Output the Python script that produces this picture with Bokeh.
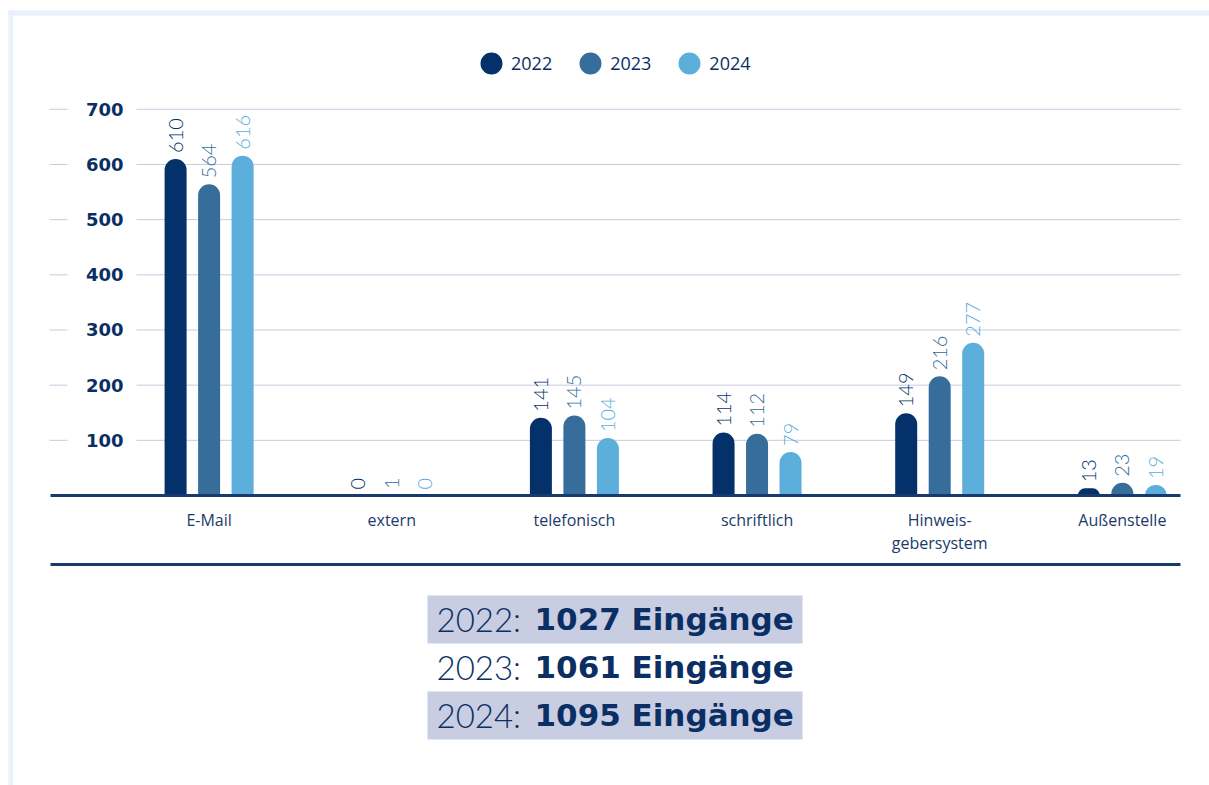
import math
from bokeh.plotting import figure
from bokeh.models import Range1d, ColumnDataSource, Legend, LegendItem
from bokeh.core.properties import value
from bokeh.embed import file_html
from bokeh.resources import INLINE

# ---------------- data ----------------
categories = ["E-Mail", "extern", "telefonisch", "schriftlich", "Hinweis-\ngebersystem", "Außenstelle"]
years = ["2022", "2023", "2024"]
values_2022 = [610, 0, 141, 114, 149, 13]
values_2023 = [564, 1, 145, 112, 216, 23]
values_2024 = [616, 0, 104, 79, 277, 19]
y_ticks = [100, 200, 300, 400, 500, 600, 700]
summary_word = "Eingänge"

# ---------------- style ----------------
colors = ["#04316a", "#366d9a", "#5caedb"]
NAVY = "#0b2f64"
GRID = "#c6cbe0"
BOX = "#c8cde1"
FRAME = "#e8f0fb"

# ---------------- layout (page pixels) ----------------
W, H = 1209, 785
OFF = 0
X0, DX = 208.6, 182.65     # page x of first category, px per category
Y0, PXU = 495.0, 0.5517    # page y of value 0, px per unit


def vx(px):
    return (px - X0) / DX


def vy(py):
    return (Y0 - py) / PXU


p = figure(width=W, height=H,
           x_range=Range1d(vx(OFF), vx(OFF + W)),
           y_range=Range1d(vy(OFF + H), vy(OFF)),
           x_axis_location=None, y_axis_location=None,
           min_border=0, toolbar_location=None, output_backend="svg",
           outline_line_color=None, background_fill_color="white",
           border_fill_color="white")
p.xgrid.grid_line_color = None
p.ygrid.grid_line_color = None

# light blue frame (top and left bands)
p.quad(left=[vx(8)], right=[vx(1212)], top=[vy(10)], bottom=[vy(15)],
       fill_color=FRAME, line_color=None)
p.quad(left=[vx(8)], right=[vx(12.5)], top=[vy(10)], bottom=[vy(790)],
       fill_color=FRAME, line_color=None)

# grid lines (short stub + main line, gap for labels)
p.segment(x0=vx(49), x1=vx(67), y0=y_ticks, y1=y_ticks, line_color=GRID, line_width=1)
p.segment(x0=vx(136), x1=vx(1180), y0=y_ticks, y1=y_ticks, line_color=GRID, line_width=1)

# y tick labels
p.text(x=vx(123), y=y_ticks, text=[str(t) for t in y_ticks],
       text_align="right", text_baseline="middle",
       text_font=value("DejaVu Sans"), text_font_style="bold",
       text_font_size="18px", text_color=NAVY)

# bars and value labels
series = [values_2022, values_2023, values_2024]
bar_w = 22 / DX
offsets = [-33.5 / DX, 0.0, 33.5 / DX]
legend_renderers = []
for k, (yr, vals, c) in enumerate(zip(years, series, colors)):
    xs = [i + offsets[k] for i in range(len(categories))]
    src = ColumnDataSource(dict(x=xs, top=vals, label=[str(v) for v in vals]))
    p.vbar(x="x", top="top", bottom=0, width=bar_w, source=src,
           fill_color=c, line_color=None, border_radius=(11, 11, 0, 0))
    p.text(x="x", y="top", text="label", source=src, angle=math.pi / 2,
           text_align="left", text_baseline="middle", y_offset=-6,
           text_font=value("Lato Light, Lato"), text_font_size="20px",
           text_color=c)
    # hidden marker renderer used only for the legend symbol
    legend_renderers.append(
        p.scatter(x="x", y="top", source=src, size=16, marker="circle",
                  fill_color=c, line_color=c, line_width=6, visible=False))

# baseline and bottom rule
p.segment(x0=[vx(50)], x1=[vx(1180)], y0=[0], y1=[0], line_color="#183a6c", line_width=3)
p.segment(x0=[vx(50)], x1=[vx(1180)], y0=[vy(564)], y1=[vy(564)], line_color="#183a6c", line_width=3)

# category labels
p.text(x=list(range(len(categories))), y=0, text=categories,
       text_align="center", text_baseline="top", y_offset=13,
       text_line_height=1.05,
       text_font=value("Open Sans"), text_font_size="16px", text_color="#1b3a6b")

# summary rows
totals = [sum(v) for v in series]
row_py = [618 + 48 * i for i in range(len(years))]
box_rows = [py for i, py in enumerate(row_py) if i % 2 == 0]
p.quad(left=vx(427), right=vx(802),
       top=[vy(py - 23) for py in box_rows], bottom=[vy(py + 25) for py in box_rows],
       fill_color=BOX, line_color=None)
p.text(x=vx(436), y=[vy(py) for py in row_py], text=[f"{y}:" for y in years],
       text_align="left", text_baseline="middle",
       text_font=value("Lato Light, Lato"), text_font_size="33px", text_color=NAVY)
p.text(x=vx(534), y=[vy(py) for py in row_py], text=[f"{t} {summary_word}" for t in totals],
       text_align="left", text_baseline="middle",
       text_font=value("DejaVu Sans"), text_font_style="bold",
       text_font_size="31px", text_color=NAVY)

# legend
legend = Legend(items=[LegendItem(label=yr, renderers=[r]) for yr, r in zip(years, legend_renderers)],
                orientation="horizontal", location=(471 - OFF, H - (83 - OFF)),
                glyph_width=40, glyph_height=40, label_standoff=0, spacing=18,
                padding=0, margin=0, border_line_color=None, background_fill_alpha=0,
                label_text_font="Open Sans", label_text_font_size="18px",
                label_text_color=NAVY)
p.add_layout(legend)

open("out.html", "w").write(file_html(p, INLINE))
